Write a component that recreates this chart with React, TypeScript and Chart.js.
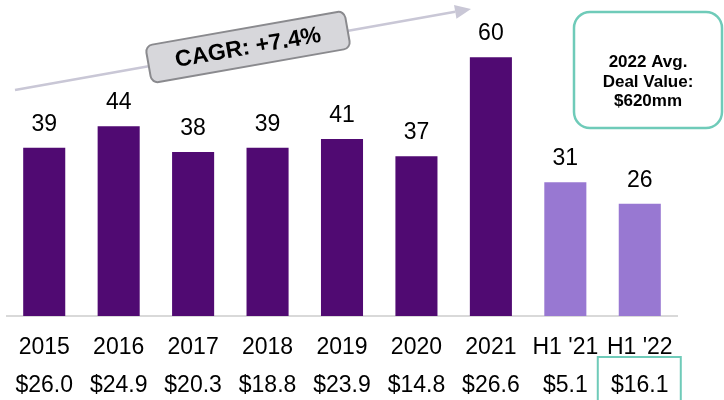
import React, { useEffect, useRef } from "react";
import { Chart, registerables } from "chart.js";

Chart.register(...registerables);

const categories = ["2015", "2016", "2017", "2018", "2019", "2020", "2021", "H1 '21", "H1 '22"];
const dealCounts = [39, 44, 38, 39, 41, 37, 60, 31, 26];
const dealValues = ["$26.0", "$24.9", "$20.3", "$18.8", "$23.9", "$14.8", "$26.6", "$5.1", "$16.1"];
const periodTypes = ["FY", "FY", "FY", "FY", "FY", "FY", "FY", "H1", "H1"];
const cagrText = "CAGR: +7.4%";
const calloutLines = ["2022 Avg.", "Deal Value:", "$620mm"];
const highlightIndex = 8;

const DARK = "#500a72";
const LIGHT = "#9878d2";
const TEAL = "#6fcbb9";
const FONT = "'Liberation Sans', Arial, sans-serif";

const overlayPlugin = {
  id: "overlay",
  afterDatasetsDraw(chart: any) {
    const ctx = chart.ctx;
    const meta = chart.getDatasetMeta(0);
    ctx.save();
    ctx.fillStyle = "#000";
    ctx.font = `23px ${FONT}`;
    ctx.textAlign = "center";
    ctx.textBaseline = "alphabetic";
    meta.data.forEach((el: any, i: number) => {
      ctx.fillText(String(dealCounts[i]), el.x, el.y - 17);
    });
    ctx.restore();
  },
  afterDraw(chart: any) {
    const ctx = chart.ctx;
    const xs = chart.scales.x;
    ctx.save();

    // CAGR arrow
    const x0 = 15, y0 = 90, x1 = 471, y1 = 9;
    const ang = Math.atan2(y1 - y0, x1 - x0);
    const headLen = 16, headW = 7;
    const bx = x1 - headLen * Math.cos(ang);
    const by = y1 - headLen * Math.sin(ang);
    ctx.strokeStyle = "#c9c7d6";
    ctx.fillStyle = "#c9c7d6";
    ctx.lineWidth = 2.5;
    ctx.beginPath();
    ctx.moveTo(x0, y0);
    ctx.lineTo(bx, by);
    ctx.stroke();
    ctx.beginPath();
    ctx.moveTo(x1, y1);
    ctx.lineTo(bx + headW * Math.sin(ang), by - headW * Math.cos(ang));
    ctx.lineTo(bx - headW * Math.sin(ang), by + headW * Math.cos(ang));
    ctx.closePath();
    ctx.fill();

    // CAGR box
    ctx.save();
    ctx.translate(248, 47);
    ctx.rotate((-10 * Math.PI) / 180);
    ctx.beginPath();
    ctx.roundRect(-101, -19, 202, 38, 7);
    ctx.fillStyle = "#d7d7db";
    ctx.fill();
    ctx.strokeStyle = "#8a8a8e";
    ctx.lineWidth = 2;
    ctx.stroke();
    ctx.fillStyle = "#000";
    ctx.font = `bold 23px ${FONT}`;
    ctx.textAlign = "center";
    ctx.textBaseline = "middle";
    ctx.fillText(cagrText, 0, 1);
    ctx.restore();

    // Callout box
    ctx.beginPath();
    ctx.roundRect(574, 12, 148, 116, 16);
    ctx.fillStyle = "#fff";
    ctx.fill();
    ctx.strokeStyle = TEAL;
    ctx.lineWidth = 2.5;
    ctx.stroke();
    ctx.fillStyle = "#000";
    ctx.font = `bold 17px ${FONT}`;
    ctx.textAlign = "center";
    ctx.textBaseline = "alphabetic";
    calloutLines.forEach((t, i) => {
      ctx.fillText(t, 648, 67 + i * 19.5);
    });

    // Highlight box around last deal value
    const cx = xs.getPixelForValue(highlightIndex);
    ctx.strokeStyle = TEAL;
    ctx.lineWidth = 2;
    ctx.beginPath();
    ctx.moveTo(cx - 42, 405);
    ctx.lineTo(cx - 42, 357);
    ctx.lineTo(cx + 41, 357);
    ctx.lineTo(cx + 41, 405);
    ctx.stroke();

    ctx.restore();
  },
};

export default function App() {
  const ref = useRef<HTMLCanvasElement>(null);
  useEffect(() => {
    if (!ref.current) return;
    const chart = new Chart(ref.current, {
      type: "bar",
      data: {
        labels: categories.map((c, i) => [c, dealValues[i]]),
        datasets: [
          {
            data: dealCounts,
            backgroundColor: periodTypes.map((p) => (p === "FY" ? DARK : LIGHT)),
            borderWidth: 0,
            barPercentage: 0.565,
            categoryPercentage: 1,
          },
        ],
      },
      options: {
        responsive: false,
        animation: false,
        layout: { padding: { top: 14, left: 7, right: 47, bottom: 0 } },
        plugins: { legend: { display: false }, tooltip: { enabled: false } },
        scales: {
          x: {
            grid: { display: false, drawTicks: false },
            border: { display: true, color: "#d9d9d9", width: 2 },
            ticks: {
              color: "#000",
              font: { size: 23, family: FONT, lineHeight: 1.674 },
              padding: 12,
              maxRotation: 0,
              autoSkip: false,
            },
            afterFit: (s: any) => {
              s.height = 84;
            },
          },
          y: { display: false, min: 0, max: 70 },
        },
      },
      plugins: [overlayPlugin],
    });
    return () => chart.destroy();
  }, []);
  return (
    <div style={{ position: "fixed", left: 0, top: 0, width: 724, height: 400, background: "#fff" }}>
      <canvas ref={ref} width={724} height={400} style={{ display: "block" }} />
    </div>
  );
}
